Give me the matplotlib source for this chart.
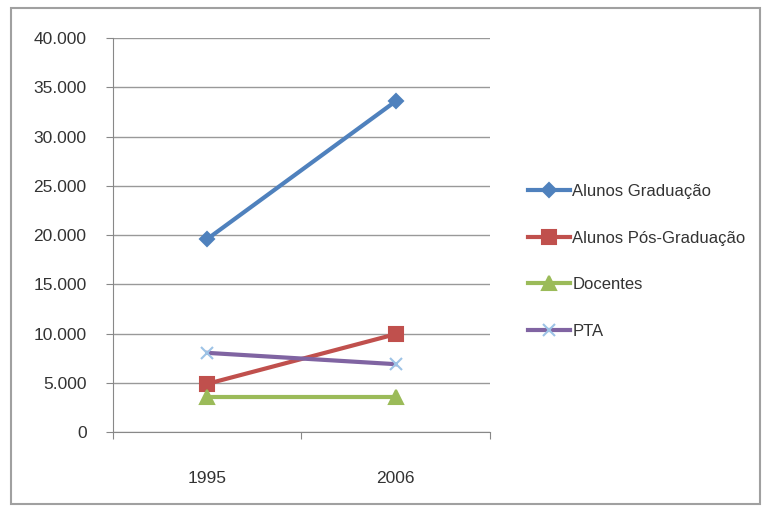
import matplotlib.pyplot as plt
from matplotlib.patches import Rectangle
from matplotlib.ticker import FuncFormatter

anos = ['1995', '2006']
graduacao = [19600, 33600]
pos_graduacao = [4900, 9950]
docentes = [3600, 3600]
pta = [8050, 6900]

series = [
    ('Alunos Graduação', graduacao, '#4F81BD', 'D', 7),
    ('Alunos Pós-Graduação', pos_graduacao, '#C0504D', 's', 10),
    ('Docentes', docentes, '#9BBB59', '^', 10),
    ('PTA', pta, '#8064A2', 'x', 8),
]

plt.rcParams['font.family'] = ['Liberation Sans', 'DejaVu Sans']

fig = plt.figure(figsize=(7.68, 5.09), dpi=100)
ax = fig.add_axes([0.147, 0.151, 0.491, 0.774])

# moldura externa do gráfico
fig.patches.append(Rectangle((0.014, 0.01), 0.976, 0.974, transform=fig.transFigure,
                             fill=False, edgecolor='#a0a0a0', linewidth=1.5))

x = [0.5, 1.5]
for nome, valores, cor, marcador, tam in series:
    mec = '#9DC3E6' if marcador == 'x' else cor
    ax.plot(x, valores, color=cor, linewidth=3, marker=marcador, markersize=tam,
            markerfacecolor=cor, markeredgecolor=mec, markeredgewidth=1.5, label=nome)

ax.set_xlim(0, 2)
ax.set_ylim(0, 40000)
ax.set_yticks(range(0, 40001, 5000))
ax.yaxis.set_major_formatter(FuncFormatter(lambda v, p: f'{int(v):,}'.replace(',', '.')))
ax.set_xticks([0, 1, 2])
ax.set_xticklabels([])
ax.set_xticks(x, minor=True)
ax.set_xticklabels(anos, minor=True)
ax.tick_params(axis='x', which='minor', length=0, pad=28)
ax.tick_params(axis='x', which='major', length=5, color='#888888')
ax.tick_params(axis='y', length=5, color='#888888', pad=14)
ax.tick_params(labelsize=12.5, labelcolor='#333333')
ax.tick_params(axis='x', which='minor', labelsize=12.5, labelcolor='#333333')

ax.grid(axis='y', color='#999999', linewidth=1)
ax.set_axisbelow(True)
for lado in ['top', 'right']:
    ax.spines[lado].set_visible(False)
for lado in ['left', 'bottom']:
    ax.spines[lado].set_color('#888888')

fig.legend(loc='upper left', bbox_to_anchor=(0.668, 0.668), frameon=False,
           fontsize=12, handlelength=2.5, handletextpad=0.15, labelspacing=1.9,
           labelcolor='#333333')

fig.savefig('out.png', dpi=100, facecolor='white')
